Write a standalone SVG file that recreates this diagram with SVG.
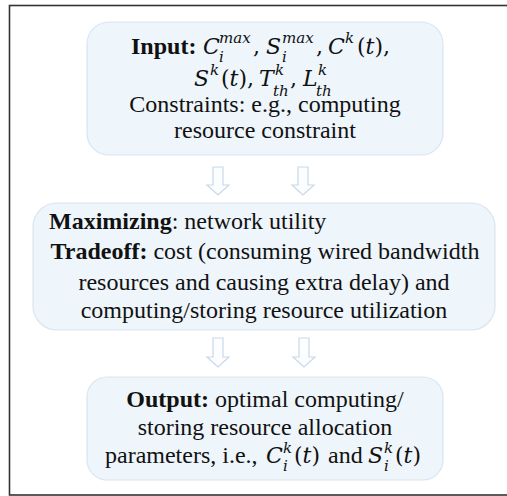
<svg xmlns="http://www.w3.org/2000/svg" width="507" height="496" viewBox="0 0 507 496">
  <style>
    .box { fill: #eef5fb; stroke: #d9e5f2; stroke-width: 1.2; }
    .arrow { fill: #fbfdff; stroke: #c9d9e8; stroke-width: 1.2; stroke-linejoin: miter; }
    text { font-family: "Liberation Serif", "Times New Roman", serif; font-size: 24px; fill: #111; }
    .b { font-weight: bold; }
    .m { font-family: "DejaVu Serif", "Liberation Serif", serif; font-style: italic; font-size: 22px; }
    .u { font-family: "DejaVu Serif", "Liberation Serif", serif; font-size: 22px; }
    .s { font-family: "DejaVu Serif", "Liberation Serif", serif; font-style: italic; font-size: 15px; }
    .c { text-anchor: middle; }
  </style>
  <rect x="9.5" y="5.5" width="505" height="489.5" fill="#ffffff" stroke="#333333" stroke-width="1.6"/>

  <g id="connectors">
    <path class="arrow" d="M213,167 H223 V185 H229 L218,195 L207,185 H213 Z"/>
    <path class="arrow" d="M298,167 H308 V185 H314 L303,195 L292,185 H298 Z"/>
    <path class="arrow" d="M213,338 H223 V357 H229 L218,367 L207,357 H213 Z"/>
    <path class="arrow" d="M299,338 H309 V357 H315 L304,367 L293,357 H299 Z"/>
  </g>

  <g id="input">
    <rect class="box" x="87" y="22" width="356" height="133" rx="22"/>
    <text x="131" y="54" class="b">Input:</text>
    <text x="203" y="54" class="m">C</text>
    <text x="219" y="43" class="s">max</text>
    <text x="219" y="62" class="s">i</text>
    <text x="253" y="54" class="u">,</text>
    <text x="266" y="54" class="m">S</text>
    <text x="282" y="43" class="s">max</text>
    <text x="282" y="62" class="s">i</text>
    <text x="316" y="54" class="u">,</text>
    <text x="328" y="54" class="m">C</text>
    <text x="345" y="43" class="s">k</text>
    <text x="357" y="54" class="u">(<tspan class="m">t</tspan>),</text>

    <text x="194" y="86" class="m">S</text>
    <text x="210" y="75" class="s">k</text>
    <text x="221" y="86" class="u">(<tspan class="m">t</tspan>),</text>
    <text x="259" y="86" class="m">T</text>
    <text x="275" y="75" class="s">k</text>
    <text x="273" y="96" class="s">th</text>
    <text x="290" y="86" class="u">,</text>
    <text x="303" y="86" class="m">L</text>
    <text x="318" y="75" class="s">k</text>
    <text x="316" y="96" class="s">th</text>

    <text x="265" y="112" class="c">Constraints: e.g., computing</text>
    <text x="265" y="138" class="c">resource constraint</text>
  </g>

  <g id="objective">
    <rect class="box" x="33" y="203" width="462" height="127" rx="24"/>
    <text x="49" y="229"><tspan class="b">Maximizing</tspan>: network utility</text>
    <text x="265" y="259" class="c"><tspan class="b">Tradeoff:</tspan> cost (consuming wired bandwidth</text>
    <text x="264" y="290" class="c">resources and causing extra delay) and</text>
    <text x="264" y="318" class="c">computing/storing resource utilization</text>
  </g>

  <g id="output">
    <rect class="box" x="87" y="377" width="356" height="103" rx="20"/>
    <text x="265" y="407" class="c"><tspan class="b">Output:</tspan> optimal computing/</text>
    <text x="265" y="435" class="c">storing resource allocation</text>
    <text x="105" y="463">parameters, i.e.,</text>
    <text x="266" y="463" class="m">C</text>
    <text x="283" y="453" class="s">k</text>
    <text x="283" y="471" class="s">i</text>
    <text x="294" y="463" class="u">(<tspan class="m">t</tspan>)</text>
    <text x="328" y="463">and</text>
    <text x="368" y="463" class="m">S</text>
    <text x="384" y="453" class="s">k</text>
    <text x="384" y="471" class="s">i</text>
    <text x="395" y="463" class="u">(<tspan class="m">t</tspan>)</text>
  </g>
</svg>
